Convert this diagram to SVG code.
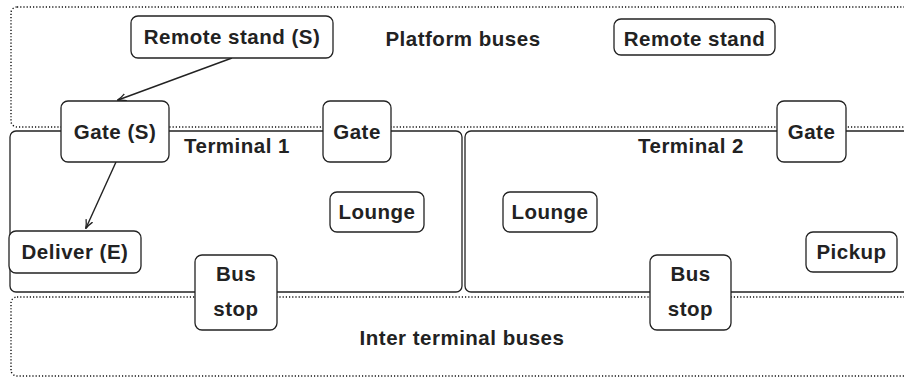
<svg xmlns="http://www.w3.org/2000/svg" width="904" height="380" viewBox="0 0 904 380">
<style>
text{font-family:"Liberation Sans","DejaVu Sans",sans-serif;font-weight:bold;font-size:20.5px;letter-spacing:0.5px;fill:#222;text-anchor:middle}
.zone{fill:none;stroke:#111;stroke-width:1.4;stroke-dasharray:1.2 2}
.term{fill:none;stroke:#222;stroke-width:1.3}
.node{fill:#fff;stroke:#222;stroke-width:1.3}
.edge{fill:none;stroke:#222;stroke-width:1.4;marker-end:url(#arr)}
</style>
<defs>
<marker id="arr" viewBox="0 0 10 10" refX="9" refY="5" markerWidth="9" markerHeight="9" markerUnits="userSpaceOnUse" orient="auto">
<path d="M0,1 Q5,4 10,5 Q5,6 0,9" fill="none" stroke="#222" stroke-width="1.4"/>
</marker>
</defs>
<g id="zones">
<rect class="zone" x="11" y="7" width="920" height="120" rx="6"/>
<rect class="zone" x="11" y="297" width="920" height="79" rx="6"/>
<text x="463" y="45.5">Platform buses</text>
<text x="462" y="344.5">Inter terminal buses</text>
</g>
<g id="terminal1">
<rect class="term" x="10" y="131" width="452" height="161" rx="6"/>
<text x="237" y="152.5">Terminal 1</text>
</g>
<g id="terminal2">
<rect class="term" x="465" y="131" width="470" height="161" rx="6"/>
<text x="691" y="152.5">Terminal 2</text>
</g>
<g id="connectors">
<line class="edge" x1="232" y1="58" x2="118" y2="100"/>
<line class="edge" x1="116" y1="162" x2="86" y2="228"/>
</g>
<g id="remote-stand-s"><rect class="node" x="131" y="16" width="202" height="42" rx="7"/><text x="232" y="43.5">Remote stand (S)</text></g>
<g id="remote-stand"><rect class="node" x="614" y="19" width="161" height="36" rx="7"/><text x="694.5" y="45.5">Remote stand</text></g>
<g id="gate-s"><rect class="node" x="61" y="101" width="108" height="61" rx="7"/><text x="115" y="138.5">Gate (S)</text></g>
<g id="gate-t1"><rect class="node" x="323" y="101" width="68" height="61" rx="7"/><text x="357" y="138.5">Gate</text></g>
<g id="gate-t2"><rect class="node" x="777" y="101" width="69" height="61" rx="7"/><text x="811.5" y="138.5">Gate</text></g>
<g id="lounge-t1"><rect class="node" x="330" y="192" width="94" height="40" rx="7"/><text x="377" y="218.5">Lounge</text></g>
<g id="lounge-t2"><rect class="node" x="503" y="192" width="94" height="40" rx="7"/><text x="550" y="218.5">Lounge</text></g>
<g id="deliver-e"><rect class="node" x="9" y="231" width="132" height="42" rx="7"/><text x="75" y="258.5">Deliver (E)</text></g>
<g id="pickup"><rect class="node" x="806" y="232" width="91" height="40" rx="7"/><text x="851.5" y="258.5">Pickup</text></g>
<g id="bus-stop-t1"><rect class="node" x="195" y="255" width="82" height="75" rx="7"/><text x="236" y="280.5">Bus</text><text x="236" y="315.5">stop</text></g>
<g id="bus-stop-t2"><rect class="node" x="650" y="255" width="81" height="75" rx="7"/><text x="690.5" y="280.5">Bus</text><text x="690.5" y="315.5">stop</text></g>
</svg>
